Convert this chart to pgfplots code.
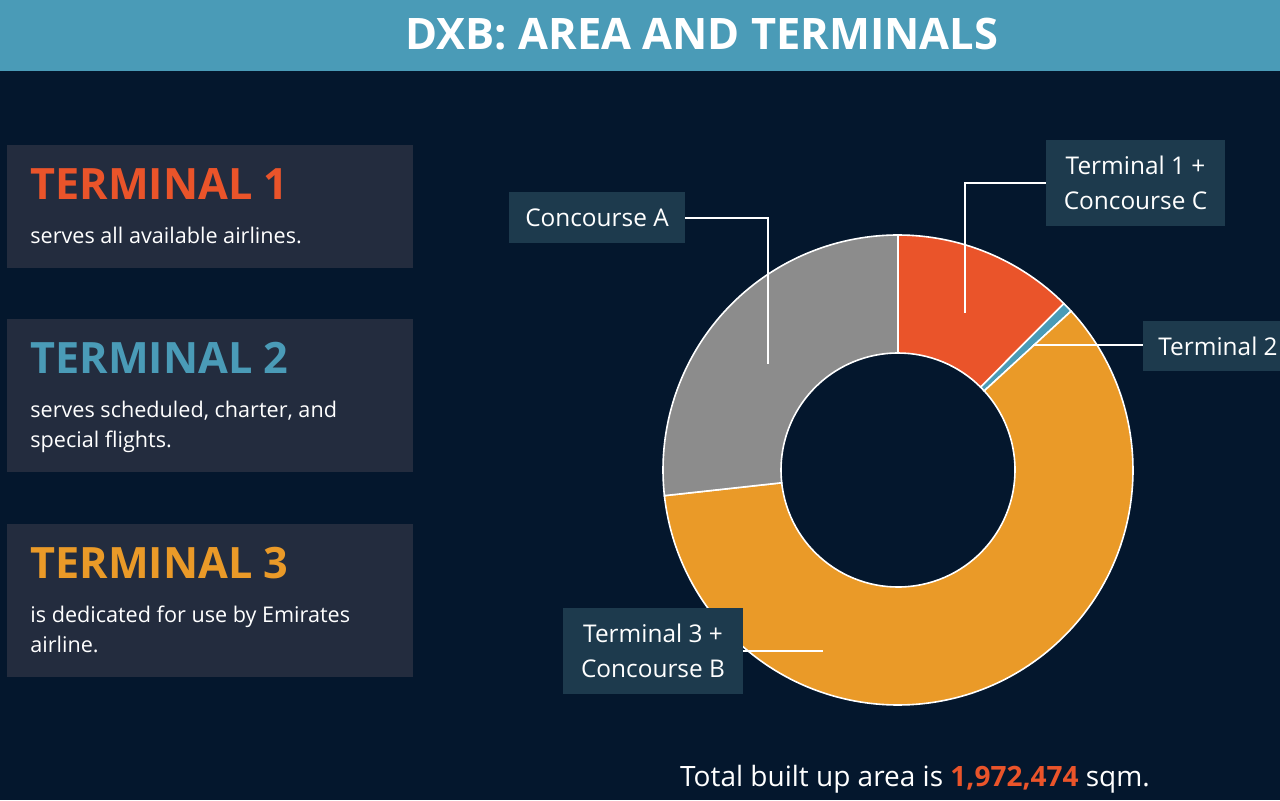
\documentclass[border=0pt]{standalone}
\usepackage{pgfplots}
\pgfplotsset{compat=1.18}
\usepackage{pgfplotstable}
\usepackage{fontspec}
\setmainfont{Open Sans}
\definecolor{bg}{HTML}{04172D}
\definecolor{banner}{HTML}{4A9BB7}
\definecolor{panel}{HTML}{232C3E}
\definecolor{lbox}{HTML}{1D3A4D}
\definecolor{tone}{HTML}{EA542A}
\definecolor{ttwo}{HTML}{4A9BB7}
\definecolor{tthree}{HTML}{EA9A28}
\definecolor{cgrey}{HTML}{8C8C8C}

\pgfplotstableread{
label value
T1CC 246000
T2 14000
T3CB 1185000
CA 527474
}\piedata
\pgfplotstablegetelem{0}{value}\of\piedata \edef\vA{\pgfplotsretval}%
\pgfplotstablegetelem{1}{value}\of\piedata \edef\vB{\pgfplotsretval}%
\pgfplotstablegetelem{2}{value}\of\piedata \edef\vC{\pgfplotsretval}%
\pgfplotstablegetelem{3}{value}\of\piedata \edef\vD{\pgfplotsretval}%
\edef\tot{\fpeval{\vA+\vB+\vC+\vD}}%
\edef\aA{\fpeval{90-360*\vA/\tot}}%
\edef\aB{\fpeval{\aA-360*\vB/\tot}}%
\edef\aC{\fpeval{\aB-360*\vC/\tot}}%
\edef\aD{\fpeval{\aC-360*\vD/\tot}}%

\newcommand\sector[3]{%
  \fill[#3, draw=white, line width=0.8pt]
    (axis cs:{898+235*cos(#1)},{330+235*sin(#1)})
    arc[start angle=#1, end angle=#2, radius=117.5pt]
    -- (axis cs:{898+117*cos(#2)},{330+117*sin(#2)})
    arc[start angle=#2, end angle=#1, radius=58.5pt] -- cycle;}

\begin{document}%
\begin{tikzpicture}
\begin{axis}[
  width=640pt, height=400pt, scale only axis,
  xmin=0, xmax=1280, ymin=0, ymax=800,
  hide axis, clip=false]
  \coordinate (bl) at (axis cs:0,0);
  \coordinate (tr) at (axis cs:1280,800);
  \fill[bg] (axis cs:0,0) rectangle (axis cs:1280,800);
  % banner
  \fill[banner] (axis cs:0,729) rectangle (axis cs:1280,800);
  \node[anchor=base, text=white, font=\bfseries\fontsize{21.7}{26}\selectfont, inner sep=0]
    at (axis cs:702,750) {DXB: AREA AND TERMINALS};
  % panels
  \fill[panel] (axis cs:7,532) rectangle (axis cs:413,655);
  \fill[panel] (axis cs:7,328) rectangle (axis cs:413,481);
  \fill[panel] (axis cs:7,123) rectangle (axis cs:413,276);
  \node[anchor=base west, inner sep=0, text=tone, font=\bfseries\fontsize{21.6}{26}\selectfont] at (axis cs:30,601) {TERMINAL 1};
  \node[anchor=base west, inner sep=0, text=white, font=\fontsize{10.8}{13}\selectfont] at (axis cs:30,557) {serves all available airlines.};
  \node[anchor=base west, inner sep=0, text=ttwo, font=\bfseries\fontsize{21.6}{26}\selectfont] at (axis cs:30,427) {TERMINAL 2};
  \node[anchor=base west, inner sep=0, text=white, font=\fontsize{10.8}{13}\selectfont] at (axis cs:30,383) {serves scheduled, charter, and};
  \node[anchor=base west, inner sep=0, text=white, font=\fontsize{10.8}{13}\selectfont] at (axis cs:30,353) {special flights.};
  \node[anchor=base west, inner sep=0, text=tthree, font=\bfseries\fontsize{21.6}{26}\selectfont] at (axis cs:30,222) {TERMINAL 3};
  \node[anchor=base west, inner sep=0, text=white, font=\fontsize{10.8}{13}\selectfont] at (axis cs:30,178) {is dedicated for use by Emirates};
  \node[anchor=base west, inner sep=0, text=white, font=\fontsize{10.8}{13}\selectfont] at (axis cs:30,148) {airline.};
  % donut
  \sector{90}{\aA}{tone}
  \sector{\aA}{\aB}{ttwo}
  \sector{\aB}{\aC}{tthree}
  \sector{\aC}{\aD}{cgrey}
  % leader lines
  \draw[white, line width=0.6pt] (axis cs:685,582) -- (axis cs:768,582) -- (axis cs:768,436);
  \draw[white, line width=0.6pt] (axis cs:1046,617) -- (axis cs:965,617) -- (axis cs:965,487);
  \draw[white, line width=0.6pt] (axis cs:1033,455) -- (axis cs:1143,455);
  \draw[white, line width=0.6pt] (axis cs:743,149) -- (axis cs:823,149);
  % label boxes
  \fill[lbox] (axis cs:509,557) rectangle (axis cs:685,608);
  \node[text=white, inner sep=0, font=\fontsize{12.2}{17.5}\selectfont] at (axis cs:597,582.5) {Concourse A};
  \fill[lbox] (axis cs:1046,574) rectangle (axis cs:1225,660);
  \node[text=white, inner sep=0, align=center, font=\fontsize{12.2}{17.5}\selectfont] at (axis cs:1135.5,617) {Terminal 1 +\\Concourse C};
  \fill[lbox] (axis cs:1143,429) rectangle (axis cs:1280,479);
  \node[text=white, inner sep=0, anchor=west, font=\fontsize{12.2}{17.5}\selectfont] at (axis cs:1158,454) {Terminal 2};
  \fill[lbox] (axis cs:563,106) rectangle (axis cs:743,192);
  \node[text=white, inner sep=0, align=center, font=\fontsize{12.2}{17.5}\selectfont] at (axis cs:653,149) {Terminal 3 +\\Concourse B};
  % total
  \node[anchor=base, inner sep=0, text=white, font=\fontsize{14}{17}\selectfont] at (axis cs:915,14)
    {Total built up area is \textcolor{tone}{\bfseries 1,972,474} sqm.};
\end{axis}
\pgfresetboundingbox
\path[use as bounding box] (bl) rectangle (tr);
\end{tikzpicture}%
\end{document}
